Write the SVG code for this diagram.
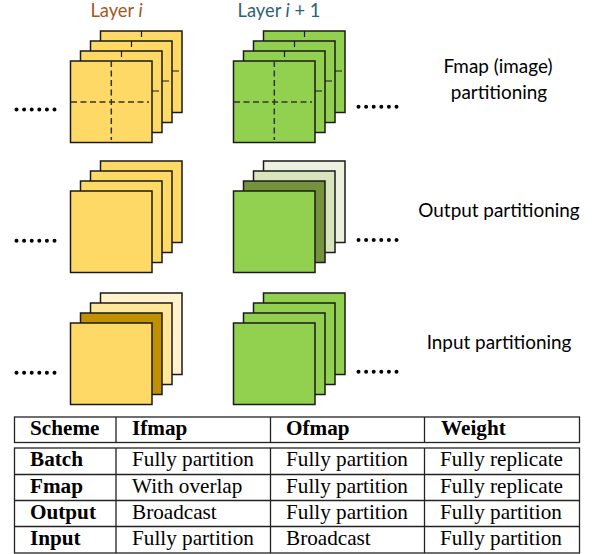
<svg xmlns="http://www.w3.org/2000/svg" width="596" height="554" viewBox="0 0 596 554">
<style>
.s{stroke:#1a1a1a;stroke-width:1.5}
.y{fill:#ffd966}.g{fill:#92d050}
.d{stroke:#333;stroke-width:1.5;stroke-dasharray:6 3.5;fill:none}
.t{stroke:#1a1a1a;stroke-width:1.2;fill:none}
.dots{stroke:#000;stroke-width:4;stroke-linecap:round;stroke-dasharray:0 7.6;fill:none}
.l{font-family:Lato,"Open Sans",sans-serif;font-size:18.900px;fill:#000;text-anchor:middle}
.ly{font-family:Lato,"Open Sans",sans-serif;font-size:18.300px;text-anchor:middle}
.h{font-family:"Liberation Serif",serif;font-size:21.200px;font-weight:bold;fill:#000}
.c{font-family:"Liberation Serif",serif;font-size:21.200px;fill:#000}
.b{stroke:#222;stroke-width:1.3;fill:none}
</style>
<defs>
<rect id="sq" width="81.500" height="81.500"/>
</defs>
<g id="label-layer-i"><text class="ly" x="116.500" y="17" fill="#a5561d">Layer <tspan font-style="italic">i</tspan></text></g>
<g id="label-layer-i1"><text class="ly" x="279" y="17" fill="#2d6175">Layer <tspan font-style="italic">i</tspan> + 1</text></g>
<g id="node-fmap-i">
<use href="#sq" x="100.500" y="31" class="s y"/><path class="t" d="M141.500 31v6M172 71h7"/>
<use href="#sq" x="90.500" y="41" class="s y"/><path class="t" d="M131.500 41v6M162 81h7"/>
<use href="#sq" x="80.500" y="51" class="s y"/><path class="t" d="M121.500 51v6M152 91h7"/>
<use href="#sq" x="70.500" y="61" class="s y"/><path class="d" d="M111.300 61v79M71 102h78"/>
</g>
<g id="node-fmap-i1">
<use href="#sq" x="263.500" y="31" class="s g"/><path class="t" d="M304.500 31v6M335 71h7"/>
<use href="#sq" x="253.500" y="41" class="s g"/><path class="t" d="M294.500 41v6M325 81h7"/>
<use href="#sq" x="243.500" y="51" class="s g"/><path class="t" d="M284.500 51v6M315 91h7"/>
<use href="#sq" x="233.500" y="61" class="s g"/><path class="d" d="M274.300 61v79M234 102h78"/>
</g>
<g id="node-output-i">
<use href="#sq" x="100.500" y="161" class="s y"/>
<use href="#sq" x="90.500" y="171" class="s y"/>
<use href="#sq" x="80.500" y="181" class="s y"/>
<use href="#sq" x="70.500" y="191" class="s y"/>
</g>
<g id="node-output-i1">
<use href="#sq" x="263.500" y="161" class="s" fill="#ebf1de"/>
<use href="#sq" x="253.500" y="171" class="s" fill="#d8e4bc"/>
<use href="#sq" x="243.500" y="181" class="s" fill="#76933c"/>
<use href="#sq" x="233.500" y="191" class="s g"/>
</g>
<g id="node-input-i">
<use href="#sq" x="100.500" y="293" class="s" fill="#fff2cc"/>
<use href="#sq" x="90.500" y="303" class="s" fill="#ffe699"/>
<use href="#sq" x="80.500" y="313" class="s" fill="#bf9000"/>
<use href="#sq" x="70.500" y="323" class="s y"/>
</g>
<g id="node-input-i1">
<use href="#sq" x="263.500" y="293" class="s g"/>
<use href="#sq" x="253.500" y="303" class="s g"/>
<use href="#sq" x="243.500" y="313" class="s g"/>
<use href="#sq" x="233.500" y="323" class="s g"/>
</g>
<g id="connectors">
<path class="dots" d="M16.500 109.500h39M358.500 106.800h39M16.500 240.700h39M358.500 240h39M16.500 372.700h39M358.500 371.700h39"/>
</g>
<g id="label-fmap"><text class="l" x="498" y="73">Fmap (image)</text><text class="l" x="499" y="98.500">partitioning</text></g>
<g id="label-output"><text class="l" x="499" y="216.500">Output partitioning</text></g>
<g id="label-input"><text class="l" x="499" y="349">Input partitioning</text></g>
<g id="table">
<rect class="b" x="14.500" y="417" width="565" height="25.500"/>
<path class="b" d="M116 417v25.500M270.500 417v25.500M424.500 417v25.500"/>
<rect class="b" x="14.500" y="448" width="565" height="105"/>
<path class="b" d="M14.500 474.500h565M14.500 500.500h565M14.500 526.500h565M116 448v105M270.500 448v105M424.500 448v105"/>
<text class="h" x="30" y="435">Scheme</text><text class="h" x="132" y="435">Ifmap</text><text class="h" x="286" y="435">Ofmap</text><text class="h" x="441" y="435">Weight</text>
<text class="h" x="30" y="466">Batch</text><text class="c" x="132" y="466">Fully partition</text><text class="c" x="286" y="466">Fully partition</text><text class="c" x="440" y="466">Fully replicate</text>
<text class="h" x="30" y="493">Fmap</text><text class="c" x="132" y="493">With overlap</text><text class="c" x="286" y="493">Fully partition</text><text class="c" x="440" y="493">Fully replicate</text>
<text class="h" x="30" y="519">Output</text><text class="c" x="132" y="519">Broadcast</text><text class="c" x="286" y="519">Fully partition</text><text class="c" x="440" y="519">Fully partition</text>
<text class="h" x="30" y="545">Input</text><text class="c" x="132" y="545">Fully partition</text><text class="c" x="286" y="545">Broadcast</text><text class="c" x="440" y="545">Fully partition</text>
</g>
</svg>
